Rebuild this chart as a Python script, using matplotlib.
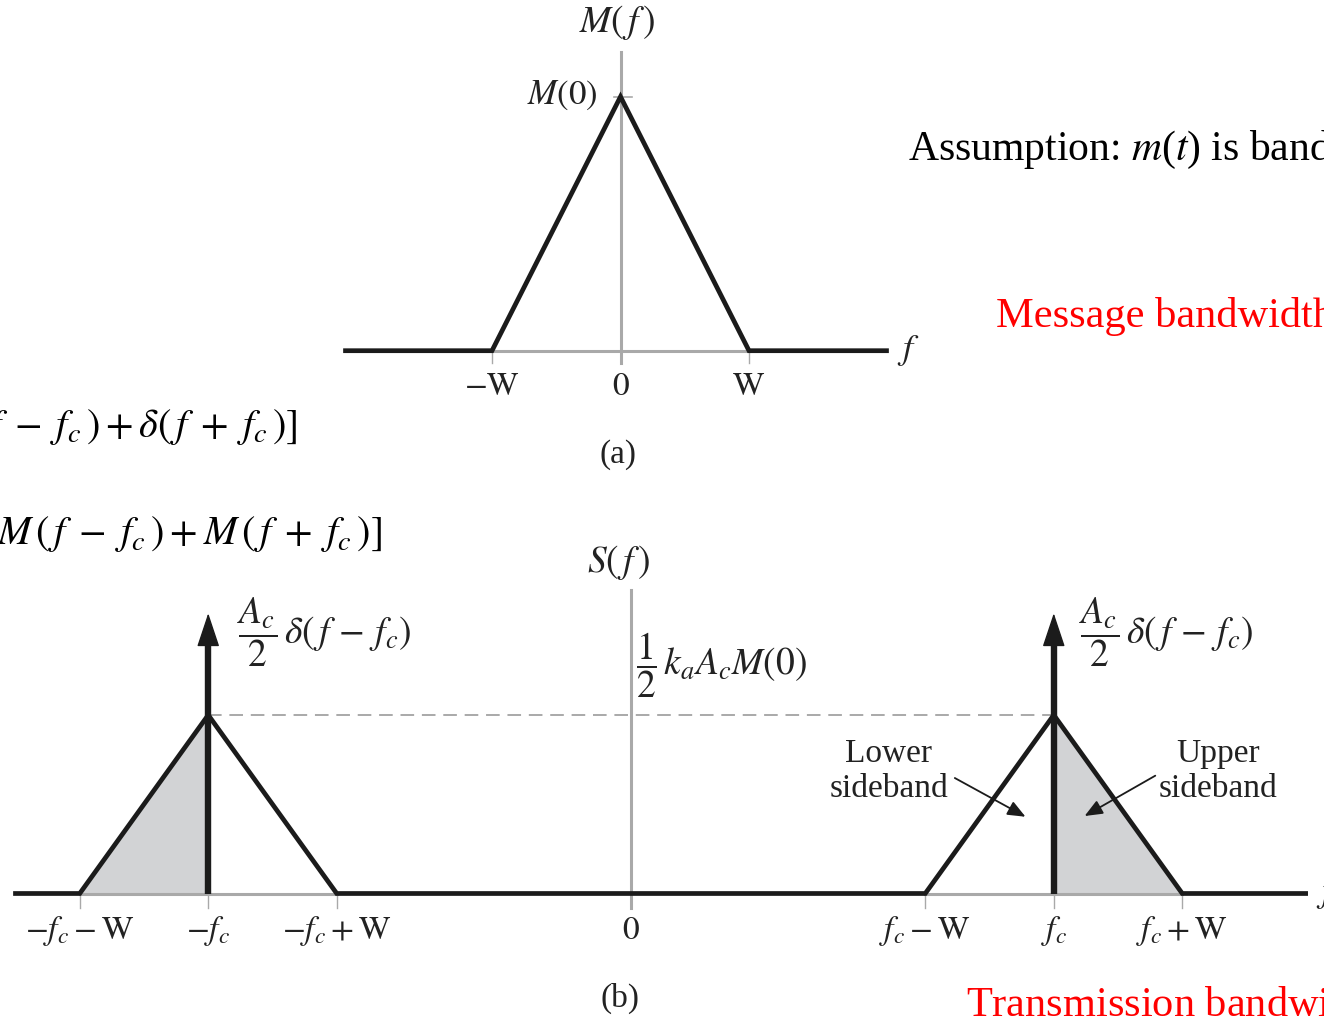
"""
AM spectra: message spectrum M(f) and the spectrum S(f) of the AM wave.
"""
import matplotlib
matplotlib.use("Agg")
import matplotlib.pyplot as plt

plt.rcParams['font.family'] = ['Liberation Serif', 'DejaVu Serif']
plt.rcParams['mathtext.fontset'] = 'stix'

# ---- data (frequencies in units of W) ----
W = 1.0                        # message bandwidth
M0 = 1.0                       # M(0)
msg_f = [-2.14, -W, 0.0, W, 2.07]
msg_m = [0.0, 0.0, M0, 0.0, 0.0]
msg_ticks = [-W, 0.0, W]
msg_tick_labels = [r'$-\mathrm{W}$', r'$0$', r'$\mathrm{W}$']

fc = 3.29                      # carrier frequency
sb_peak = 1.0                  # (1/2) ka Ac M(0)
carrier_amp = 1.57             # Ac/2 impulse
am_f = [-4.79, -fc - W, -fc, -fc + W, fc - W, fc, fc + W, 5.25]
am_s = [0.0, 0.0, sb_peak, 0.0, 0.0, sb_peak, 0.0, 0.0]
am_ticks = [-fc - W, -fc, -fc + W, 0.0, fc - W, fc, fc + W]
am_tick_labels = [r'$-f_c - \mathrm{W}$', r'$-f_c$', r'$-f_c + \mathrm{W}$', r'$0$',
                  r'$f_c - \mathrm{W}$', r'$f_c$', r'$f_c + \mathrm{W}$']

FIG_W, FIG_H = 1324, 1016
BLACK = '#1b1b1b'
GRAY = '#a9a9a9'
FILL = '#d2d3d5'
TXT = '#222222'
LABEL_FS = 24


def px(x, y):
    # pixel position (from top-left) -> figure fraction
    return x / FIG_W, 1 - y / FIG_H


def panel(fig, x0, y0, sx, sy):
    # full-figure axes whose origin sits at pixel (x0, y0), sx/sy pixels per unit
    ax = fig.add_axes([0, 0, 1, 1])
    ax.set_xlim(-x0 / sx, (FIG_W - x0) / sx)
    ax.set_ylim((y0 - FIG_H) / sy, y0 / sy)
    ax.axis('off')
    return ax


fig = plt.figure(figsize=(FIG_W / 100, FIG_H / 100), dpi=100)

# ---------------- (a) message spectrum ----------------
ax1 = panel(fig, 620.5, 350.7, 128.5, 254)
ax1.plot([0, 0], [-0.047, 1.177], color=GRAY, lw=2.2, zorder=1)
ax1.plot([-W, W], [0, 0], color=GRAY, lw=2.2, zorder=1)
ax1.plot([-0.05, 0.09], [M0, M0], color=GRAY, lw=1.2, zorder=1)
for t in msg_ticks:
    ax1.plot([t, t], [0, -0.047], color=GRAY, lw=1.0, zorder=1)
ax1.plot(msg_f, msg_m, color=BLACK, lw=3.4, solid_joinstyle='miter', zorder=3)
for t, lab in zip(msg_ticks, msg_tick_labels):
    ax1.text(t, -0.143, lab, ha='center', va='center', fontsize=LABEL_FS, color=TXT)
ax1.text(msg_f[-1] + 0.08, 0.0, r'$f$', ha='left', va='center', fontsize=26, color=TXT)

fig.text(*px(617, 22), r'$M(\,f\,)$', ha='center', va='center', fontsize=27, color=TXT)
fig.text(*px(597, 95), r'$M(0)$', ha='right', va='center', fontsize=25, color=TXT)
fig.text(*px(618, 455), '(a)', ha='center', va='center', fontsize=LABEL_FS, color=TXT)

# ---------------- (b) AM spectrum ----------------
ax2 = panel(fig, 631, 893.5, 128.5, 178.5)
ax2.fill_between([-fc - W, -fc], [0, sb_peak], color=FILL, lw=0, zorder=0)
ax2.fill_between([fc, fc + W], [sb_peak, 0], color=FILL, lw=0, zorder=0)
ax2.plot([0, 0], [-0.08, 1.70], color=GRAY, lw=2.2, zorder=1)
ax2.plot([-fc - W, -fc + W], [0, 0], color=GRAY, lw=2.2, zorder=1)
ax2.plot([fc - W, fc + W], [0, 0], color=GRAY, lw=2.2, zorder=1)
ax2.plot([-fc, fc], [sb_peak, sb_peak], color=GRAY, lw=1.4, ls=(0, (7, 4)), zorder=1)
for t in am_ticks:
    ax2.plot([t, t], [0, -0.08], color=GRAY, lw=1.0, zorder=1)
ax2.plot(am_f, am_s, color=BLACK, lw=3.4, solid_joinstyle='miter', zorder=3)

# carrier impulses
head = 0.16
ax2.vlines([-fc, fc], 0, carrier_amp - head, color=BLACK, lw=4.6, zorder=4)
for f0 in (-fc, fc):
    ax2.annotate('', xy=(f0, carrier_amp), xytext=(f0, carrier_amp - head - 0.02),
                 arrowprops=dict(arrowstyle='-|>,head_length=0.9,head_width=0.3',
                                 mutation_scale=24, lw=1, color=BLACK,
                                 shrinkA=0, shrinkB=0), zorder=4)

for t, lab in zip(am_ticks, am_tick_labels):
    ax2.text(t, -0.21, lab, ha='center', va='center', fontsize=LABEL_FS, color=TXT)
ax2.text(am_f[-1] + 0.08, 0.0, r'$f$', ha='left', va='center', fontsize=26, color=TXT)

# sideband pointers
arrow_kw = dict(arrowstyle='-|>,head_length=0.6,head_width=0.25', mutation_scale=18,
                lw=1.3, color=BLACK, shrinkA=0, shrinkB=0)
ax2.annotate('', xy=(fc - 0.22, 0.43), xytext=(fc - 0.77, 0.647), arrowprops=arrow_kw)
ax2.annotate('', xy=(fc + 0.24, 0.434), xytext=(fc + 0.79, 0.66), arrowprops=arrow_kw)
fig.text(*px(889, 771), 'Lower\nsideband', ha='center', va='center', fontsize=LABEL_FS,
         color=TXT, linespacing=1.2)
fig.text(*px(1218, 771), 'Upper\nsideband', ha='center', va='center', fontsize=LABEL_FS,
         color=TXT, linespacing=1.2)

fig.text(*px(619, 563), r'$S(\,f\,)$', ha='center', va='center', fontsize=27, color=TXT)
fig.text(*px(237, 632), r'$\dfrac{A_c}{2}\,\delta(\,f\,-\,f_c)$', ha='left', va='center',
         fontsize=27, color=TXT)
fig.text(*px(1079, 632), r'$\dfrac{A_c}{2}\,\delta(\,f\,-\,f_c)$', ha='left', va='center',
         fontsize=27, color=TXT)
fig.text(*px(636, 665), r'$\dfrac{1}{2}\,k_a A_c M(0)$', ha='left', va='center',
         fontsize=27, color=TXT)
fig.text(*px(620, 998), '(b)', ha='center', va='center', fontsize=LABEL_FS, color=TXT)

# ---------------- surrounding notes ----------------
fig.text(*px(298, 437),
         r'$C(f)=\frac{A_c}{2}\,[\delta(\,f\;-\;f_c\,)+\delta(\,f\;+\;f_c\,)]$',
         ha='right', va='baseline', fontsize=29, color='black')
fig.text(*px(382, 545),
         r'$S(f)=\frac{A_c}{2}\,[\delta(f - f_c)+\delta(f + f_c)]+\frac{k_a A_c}{2}'
         r'\,[M\,(\,f\;-\;f_c\,)+M\,(\,f\;+\;f_c\,)]$',
         ha='right', va='baseline', fontsize=29, color='black')
fig.text(*px(908, 160), r'Assumption: $m$($t$) is band-limited', ha='left',
         va='baseline', fontsize=30, color='black')
fig.text(*px(996, 327), r'Message bandwidth: W', ha='left', va='baseline',
         fontsize=30.5, color='red')
fig.text(*px(966, 1016), r'Transmission bandwidth: $B_T$ = 2W', ha='left',
         va='baseline', fontsize=30.5, color='red')

fig.savefig('out.png', dpi=100)
